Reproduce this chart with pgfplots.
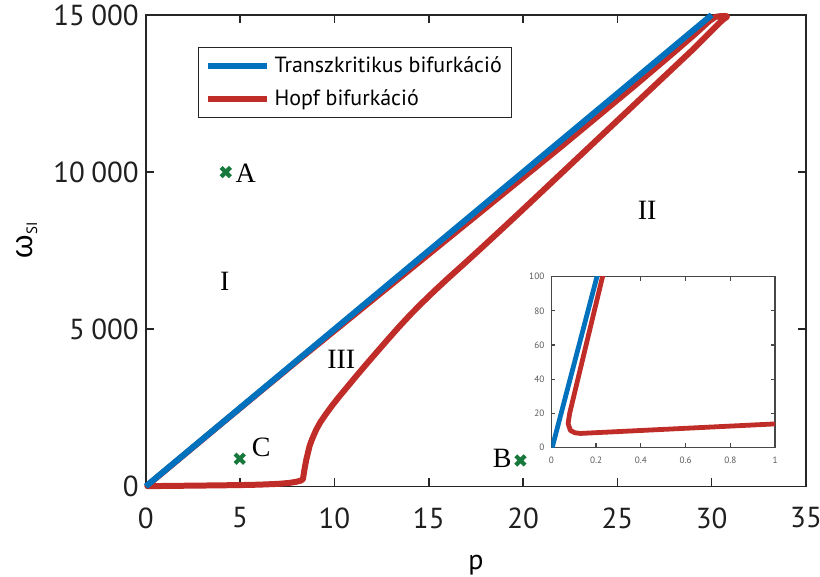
\documentclass[border=0pt]{standalone}
\usepackage{fontspec}
\setmainfont{PT Sans}
\newfontfamily\seriffont{Liberation Serif}
\newfontfamily\greekfont{Liberation Sans}
\usepackage{pgfplots}
\pgfplotsset{compat=1.18}

\definecolor{tkblue}{RGB}{0,114,189}
\definecolor{hopfred}{RGB}{192,44,40}
\definecolor{ptgreen}{RGB}{22,120,58}
\definecolor{axgray}{RGB}{38,38,38}

\pgfplotsset{/pgf/number format/assume math mode=true}

\begin{document}
\begin{tikzpicture}
\begin{axis}[
  name=main, at={(0pt,0pt)}, anchor=south west,
  scale only axis, width=330.5pt, height=236pt,
  xmin=0, xmax=35, ymin=0, ymax=15000,
  xtick={0,5,10,15,20,25,30,35},
  xticklabels={0,5,10,15,20,25,30,35},
  ytick={0,5000,10000,15000},
  yticklabels={0,5\hspace{0.22em}000,10\hspace{0.22em}000,15\hspace{0.22em}000},
  scaled y ticks=false,
  tick align=inside, tick pos=both,
  major tick length=4pt,
  axis line style={axgray, line width=0.8pt},
  every tick/.style={axgray, line width=0.8pt},
  tick label style={font=\fontsize{14.5}{16}\selectfont, text=black!88},
  xticklabel style={yshift=-7pt},
  xlabel={p},
  xlabel style={at={(axis description cs:0.5,-0.166)}, anchor=center, font=\fontsize{14}{16}\selectfont},
  ylabel={{\greekfont ω}\textsubscript{\fontsize{7.5}{8}\selectfont SI}},
  ylabel style={at={(axis description cs:-0.18,0.523)}, anchor=center, font=\fontsize{15}{17}\selectfont},
  clip=false,
  legend style={at={(rel axis cs:0.0787,0.932)}, anchor=north west,
    draw=axgray, line width=0.6pt, fill=white,
    font=\fontsize{11}{13}\selectfont,
    inner xsep=3pt, inner ysep=2.5pt, row sep=3pt,
    cells={anchor=west}},
  legend image code/.code={\draw[#1] (0pt,0pt) -- (30pt,0pt);},
]
% legend samples
\addlegendimage{tkblue, line width=3.2pt}
\addlegendentry{Transzkritikus bifurkáció}
\addlegendimage{hopfred, line width=3.2pt}
\addlegendentry{Hopf bifurkáció}

% Hopf bifurcation curve: lower branch, tip, upper branch
\addplot[hopfred, line width=3pt, line join=round, forget plot] coordinates {
  (0.13,8.2) (1,14) (3,27) (5,42) (6,55) (7,80) (7.6,110) (8.0,150)
  (8.22,185) (8.33,230) (8.40,500) (8.46,700) (8.51,858) (8.58,1030)
  (8.68,1281) (8.8,1480) (8.92,1650) (9.04,1811) (9.25,2040) (9.57,2320)
  (9.9,2590) (10.27,2870) (10.7,3180) (11.15,3505) (11.68,3880)
  (12.21,4248) (12.83,4675) (13.45,5094) (14.05,5480) (14.68,5860)
  (15.3,6220) (16,6610) (17,7150) (18,7700) (19,8255) (20,8815)
  (21,9380) (22,9945) (23,10510) (24,11075) (25,11640) (26,12205)
  (27,12770) (28,13335) (29,13900) (29.7,14320) (30.39,14736)
  (30.62,14860) (30.78,14930) (30.82,14955) (30.7,14968) (30.45,14962)
  (30.2,14940) (29.9,14820) (29.5,14600) (29,14330) (28,13810)
  (26,12790) (24,11795) (22,10800) (20,9825) (18,8850) (16,7875)
  (14,6900) (12,5925) (10,4950) (8,3975) (6,2985) (4,1990) (2,990)
  (1,490) (0.5,240) (0.229,100) (0.082,20) (0.075,14) (0.085,10)
  (0.105,8.6) (0.13,8.2)
};
% transcritical bifurcation line
\addplot[tkblue, line width=3pt, forget plot] coordinates {(0,0) (30,15000)};

% sample points
\addplot[only marks, mark=x, mark size=3.3pt, ptgreen, line width=2.1pt, forget plot]
  coordinates {(4.24,10000) (4.98,880) (19.86,826)};

\node[font=\seriffont\fontsize{14}{16}\selectfont] at (axis cs:5.29,9968) {A};
\node[font=\seriffont\fontsize{14}{16}\selectfont] at (axis cs:6.12,1230) {C};
\node[font=\seriffont\fontsize{14}{16}\selectfont] at (axis cs:18.9,890) {B};
\node[font=\seriffont\fontsize{14}{16}\selectfont] at (axis cs:4.18,6514) {I};
\node[font=\seriffont\fontsize{14}{16}\selectfont] at (axis cs:26.58,8770) {II};
\node[font=\seriffont\fontsize{14}{16}\selectfont] at (axis cs:10.36,4036) {III};
\end{axis}

% close-up near the origin
\begin{axis}[
  at={(203pt,19.5pt)}, anchor=south west,
  scale only axis, width=112pt, height=85.5pt,
  xmin=0, xmax=1, ymin=0, ymax=100,
  xtick={0,0.2,0.4,0.6,0.8,1},
  xticklabels={0,0.2,0.4,0.6,0.8,1},
  ytick={0,20,40,60,80,100},
  yticklabels={0,20,40,60,80,100},
  tick align=inside, tick pos=both,
  major tick length=2pt,
  axis line style={axgray!85, line width=0.6pt},
  every tick/.style={axgray!85, line width=0.6pt},
  tick label style={font=\fontsize{4.6}{5}\selectfont, text=black!65},
  xticklabel style={yshift=-1pt},
  axis background/.style={fill=white},
  clip=true,
]
\addplot[hopfred, line width=2.4pt, line join=round] coordinates {
  (0.245,108) (0.229,100) (0.082,20) (0.075,14) (0.085,10) (0.105,8.6)
  (0.13,8.2) (1.05,14.1)
};
\addplot[tkblue, line width=2.4pt] coordinates {(0.004,0) (0.21,103)};
\end{axis}

\pgfresetboundingbox
\path (-73pt,-45pt) rectangle (337.5pt,243.5pt);
\end{tikzpicture}
\end{document}
